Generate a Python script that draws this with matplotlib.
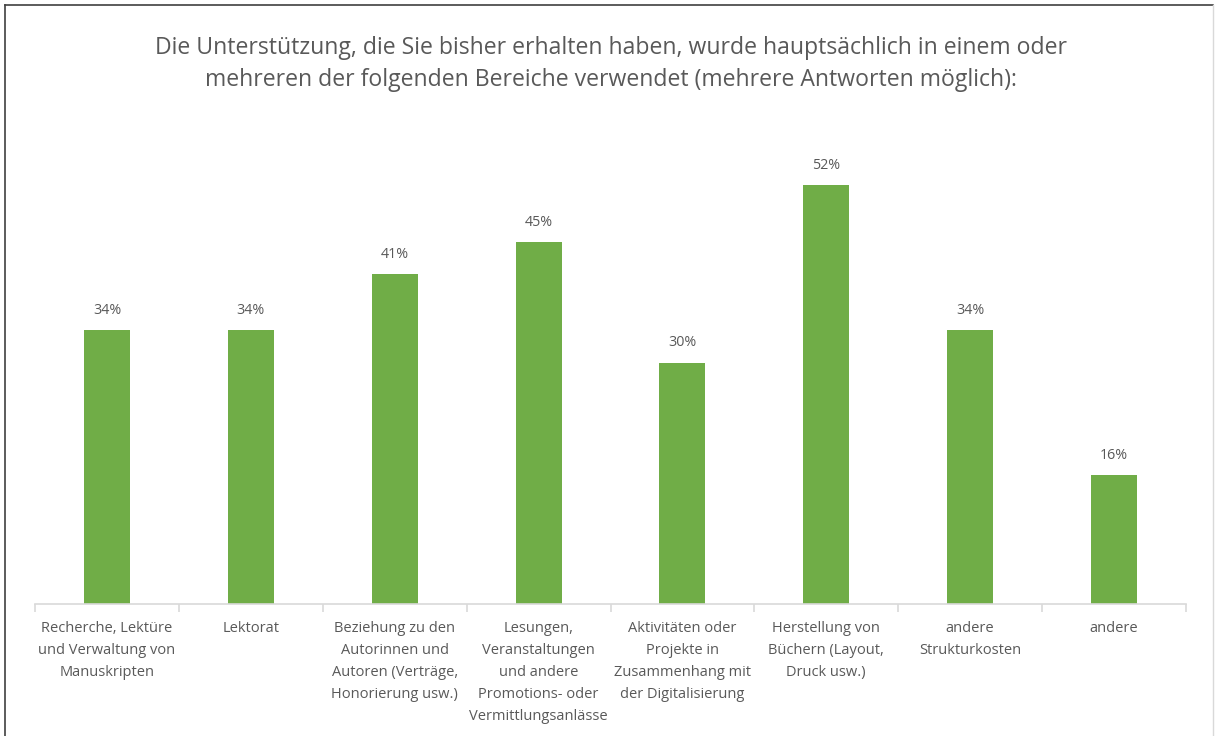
import matplotlib
matplotlib.use("Agg")
import matplotlib.pyplot as plt
import numpy as np

categories = [
    "Recherche, Lektüre\nund Verwaltung von\nManuskripten",
    "Lektorat",
    "Beziehung zu den\nAutorinnen und\nAutoren (Verträge,\nHonorierung usw.)",
    "Lesungen,\nVeranstaltungen\nund andere\nPromotions- oder\nVermittlungsanlässe",
    "Aktivitäten oder\nProjekte in\nZusammenhang mit\nder Digitalisierung",
    "Herstellung von\nBüchern (Layout,\nDruck usw.)",
    "andere\nStrukturkosten",
    "andere",
]
values = [34, 34, 41, 45, 30, 52, 34, 16]
title = ("Die Unterstützung, die Sie bisher erhalten haben, wurde hauptsächlich in einem oder\n"
         "mehreren der folgenden Bereiche verwendet (mehrere Antworten möglich):")

plt.rcParams['font.family'] = ['Open Sans', 'DejaVu Sans']
text_color = "#595959"

W, H = 1215, 736
fig = plt.figure(figsize=(W / 100, H / 100), dpi=100)
ax = fig.add_axes([35 / W, (H - 604) / H, (1186 - 35) / W, (604 - 121) / H])

x = np.arange(len(values))
ax.bar(x, values, width=0.32, color="#70AD47", zorder=2)
for xi, v in zip(x, values):
    ax.text(xi, v + 1.5, f"{v}%", ha="center", va="bottom", fontsize=10.3, color=text_color)

ax.set_xlim(-0.5, len(values) - 0.5)
ax.set_ylim(0, 60)
ax.set_yticks([])
for s in ["top", "right", "left"]:
    ax.spines[s].set_visible(False)
ax.spines["bottom"].set_color("#D9D9D9")
ax.spines["bottom"].set_linewidth(1.2)

ax.set_xticks(x)
ax.set_xticklabels(categories, fontsize=10.5, color=text_color, linespacing=1.65)
ax.tick_params(axis="x", which="major", length=0, pad=12)
ax.set_xticks(np.arange(-0.5, len(values), 1), minor=True)
ax.tick_params(axis="x", which="minor", length=6, color="#D9D9D9", width=1.2)

fig.text(611 / W, 1 - 64 / H, title, ha="center", va="center", fontsize=16.6,
         color=text_color, linespacing=1.5)

# chart border
fig.add_artist(plt.Line2D([5 / W, 5 / W], [0, 1 - 5 / H], color="#404040", lw=1.2))
fig.add_artist(plt.Line2D([5 / W, 1213 / W], [1 - 5 / H, 1 - 5 / H], color="#404040", lw=1.2))
fig.add_artist(plt.Line2D([1213 / W, 1213 / W], [0, 1 - 5 / H], color="#D9D9D9", lw=1))

fig.savefig("out.png", dpi=100)
